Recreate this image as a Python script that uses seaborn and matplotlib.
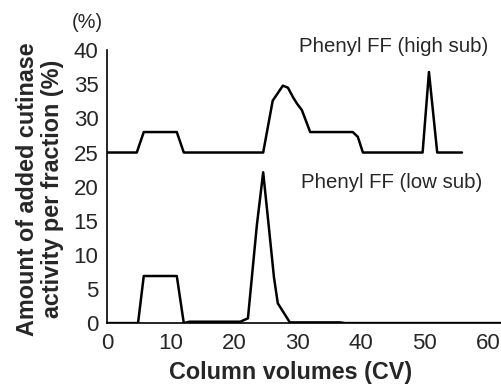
import pandas as pd
import matplotlib.pyplot as plt
import seaborn as sns

# Phenyl FF (high sub) - plotted with a +25 offset
cv_alta = [0, 4.7, 5.8, 11.0, 12.1, 24.6, 26.1, 27.7, 28.5, 29.3, 29.9, 30.7, 32.0, 38.7, 39.5, 40.3, 49.7, 50.7, 52.0, 55.9]
ativ_alta = [0, 0, 3, 3, 0, 0, 7.6, 9.8, 9.5, 8.1, 7.2, 6.2, 3, 3, 2.3, 0, 0, 11.8, 0, 0]

# Phenyl FF (low sub)
cv_baixa = [0, 4.9, 5.8, 11.0, 12.1, 13, 21.0, 22.2, 23.6, 24.6, 25.5, 26.3, 26.9, 28.8, 36.7, 37.5, 62.2]
ativ_baixa = [0, 0, 6.9, 6.9, 0, 0.2, 0.2, 0.7, 14.3, 22.1, 14, 6.7, 2.9, 0.1, 0.1, 0, 0]

offset = 25

dados_alta = pd.DataFrame({"cv": cv_alta, "ativ": [v + offset for v in ativ_alta]})
dados_baixa = pd.DataFrame({"cv": cv_baixa, "ativ": ativ_baixa})

sns.set_style("ticks")
plt.rcParams["font.family"] = ["Liberation Sans", "DejaVu Sans"]

fig = plt.figure(figsize=(5.02, 3.86), dpi=100)
ax = fig.add_axes([0.213, 0.163, 0.787, 0.707])

sns.lineplot(data=dados_alta, x="cv", y="ativ", color="black", linewidth=1.8, sort=False, ax=ax)
sns.lineplot(data=dados_baixa, x="cv", y="ativ", color="black", linewidth=1.8, sort=False, ax=ax)

ax.set_xlim(0, 62.2)
ax.set_ylim(0, 40)
ax.set_xticks([0, 10, 20, 30, 40, 50, 60])
ax.set_yticks([0, 5, 10, 15, 20, 25, 30, 35, 40])
ax.tick_params(axis="y", length=0, labelsize=16, pad=6)
ax.tick_params(axis="x", length=0, labelsize=16, pad=7)
sns.despine(ax=ax)
for s in ["left", "bottom"]:
    ax.spines[s].set_linewidth(1.2)
    ax.spines[s].set_color("black")

ax.set_xlabel("Column volumes (CV)", fontsize=16.8, fontweight="bold", va="center")
ax.xaxis.set_label_coords(0.466, -(372 - 323) / 273)
ax.set_ylabel("Amount of added cutinase\nactivity per fraction (%)", fontsize=16.8,
              fontweight="bold", va="center", linespacing=1.1)
ax.yaxis.set_label_coords(-(107 - 40) / 395, 0.49)

fig.text(488 / 502, 1 - 47 / 386, "Phenyl FF (high sub)", fontsize=14.7, ha="right", va="center")
fig.text(482 / 502, 1 - 182 / 386, "Phenyl FF (low sub)", fontsize=14.7, ha="right", va="center")
fig.text(87 / 502, 1 - 23 / 386, "(%)", fontsize=14.4, ha="center", va="center")

plt.savefig("out.png", dpi=100)
